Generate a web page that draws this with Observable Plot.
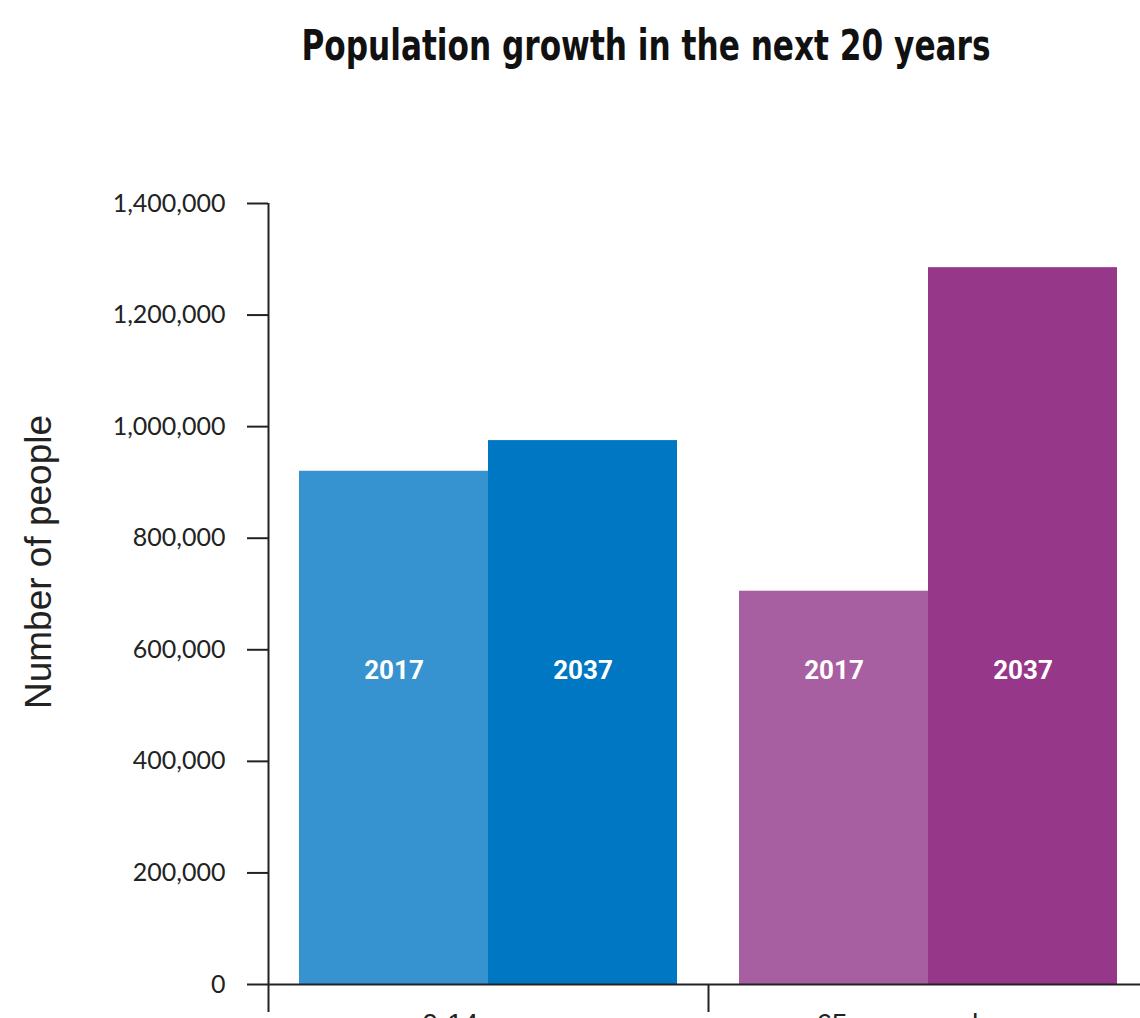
<!DOCTYPE html>
<html>
<head>
<meta charset="utf-8">
<script src="https://cdn.jsdelivr.net/npm/d3@7"></script>
<script src="https://cdn.jsdelivr.net/npm/@observablehq/plot@0.6"></script>
<style>
  html, body { margin: 0; padding: 0; overflow: hidden; background: #fff; width: 1140px; height: 1018px; }
  #title { position: absolute; left: 646px; top: 25px; transform: translateX(-50%) scaleX(0.825); transform-origin: 50% 50%; white-space: nowrap;
    font-family: "Liberation Sans Narrow", "DejaVu Sans Condensed", "Roboto", sans-serif; font-stretch: condensed;
    font-weight: bold; font-size: 42px; color: #111; margin: 0; line-height: 1; }
  #chart { position: absolute; left: 0; top: 100px; }
</style>
</head>
<body>
<h1 id="title">Population growth in the next 20 years</h1>
<div id="chart"></div>
<script>
const groups = ["0-14 years", "0-14 years", "65 years and over", "65 years and over"];
const years = ["2017", "2037", "2017", "2037"];
const values = [920000, 975000, 705000, 1285000];
const yTicks = [0, 200000, 400000, 600000, 800000, 1000000, 1200000, 1400000];
const groupNames = ["0-14 years", "65 years and over"];
const yLabel = "Number of people";

const data = groups.map((g, i) => ({group: g, year: years[i], value: values[i], key: g + " " + years[i]}));

const tickFont = "Lato, 'Open Sans', sans-serif";
const labelFont = "'Liberation Sans', Arial, sans-serif";
const chart = Plot.plot({
  width: 1160,
  height: 944,
  marginLeft: 268,
  marginRight: 12,
  marginTop: 103,
  marginBottom: 60,
  style: {background: "transparent", color: "#222", maxWidth: "none"},
  fx: {padding: 0, axis: null, label: null},
  x: {domain: ["2017", "2037"], paddingInner: 0, paddingOuter: 0.164, axis: null},
  y: {domain: [0, 1400000], axis: null},
  color: {
    domain: data.map(d => d.key),
    range: ["#3793d0", "#0077c2", "#a85fa1", "#96378a"]
  },
  marks: [
    Plot.barY(data, {fx: "group", x: "year", y: "value", fill: "key"}),
    Plot.text(data, {fx: "group", x: "year", y: 562500, text: "year", fill: "white",
      fontSize: 26, fontWeight: "bold", fontFamily: "Roboto, sans-serif"}),
    Plot.ruleY([0], {stroke: "#222", strokeWidth: 2}),
    Plot.ruleX([groupNames[0]], {fx: d => d, x: null, y1: 0, y2: 1400000, dx: -220, stroke: "#222", strokeWidth: 2}),
    Plot.axisY({ticks: yTicks, tickFormat: d3.format(","), tickSize: 21, tickPadding: 22, fontSize: 25,
      fontFamily: tickFont, label: null, strokeWidth: 2, stroke: "#222"}),
    Plot.text([yLabel], {fx: () => groupNames[0], frameAnchor: "left", textAnchor: "middle", dx: -229, dy: -32, rotate: -90,
      fontSize: 37, fontFamily: labelFont, fill: "#222"}),
    Plot.axisFx({anchor: "bottom", tickSize: 28, dx: -220, tickFormat: () => "", label: null, strokeWidth: 2, stroke: "#222"}),
    Plot.axisFx({anchor: "bottom", tickSize: 0, tickPadding: 29, fontSize: 28, fontFamily: labelFont, label: null})
  ]
});
document.getElementById("chart").appendChild(chart);
</script>
</body>
</html>
